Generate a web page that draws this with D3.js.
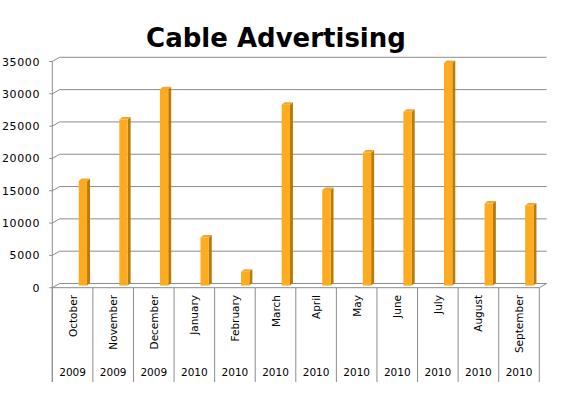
<!DOCTYPE html>
<html>
<head>
<meta charset="utf-8">
<script src="https://cdn.jsdelivr.net/npm/d3@7"></script>
<style>
  body { margin: 0; background: #fff; }
  svg { display: block; font-family: "DejaVu Sans", Verdana, sans-serif; }
</style>
</head>
<body>
<div id="chart"></div>
<script>
// values
const months = ["October", "November", "December", "January", "February", "March",
                "April", "May", "June", "July", "August", "September"];
const years = ["2009", "2009", "2009", "2010", "2010", "2010",
               "2010", "2010", "2010", "2010", "2010", "2010"];
const spend = [16200, 25700, 30400, 7450, 2150, 28000,
               14800, 20600, 26900, 34450, 12700, 12400];
const yTicks = [0, 5000, 10000, 15000, 20000, 25000, 30000, 35000];

const width = 564, height = 396;
const left = 52.3, right = 539.3;
const backTop = 57.3, backBottom = 283.5;
const depthX = 7.3, depthY = -4.2;   // front -> back wall shift

const svg = d3.select("#chart")
    .append("svg")
    .attr("width", width)
    .attr("height", height);

const x = d3.scaleBand()
    .domain(d3.range(months.length))
    .range([left, right]);

// y scale drawn on the back wall
const y = d3.scaleLinear()
    .domain([0, 35000])
    .range([backBottom, backTop]);

const gridColor = "#8c8c8c";

// back wall gridlines + side wall diagonals
const grid = svg.append("g");
yTicks.forEach(function (t) {
    grid.append("line")
        .attr("x1", left + depthX).attr("x2", right + depthX)
        .attr("y1", y(t)).attr("y2", y(t))
        .attr("stroke", gridColor);
    grid.append("line")
        .attr("x1", left).attr("x2", left + depthX)
        .attr("y1", y(t) - depthY).attr("y2", y(t))
        .attr("stroke", gridColor);
    grid.append("line")
        .attr("x1", left - 3).attr("x2", left)
        .attr("y1", y(t) - depthY).attr("y2", y(t) - depthY)
        .attr("stroke", gridColor);
    grid.append("text")
        .attr("x", 40)
        .attr("y", y(t) - depthY + 4)
        .attr("text-anchor", "end")
        .style("font-size", "11px")
        .style("letter-spacing", "0.6px")
        .attr("fill", "#000")
        .text(t);
});

// floor: front edge and right diagonal
grid.append("line")
    .attr("x1", left).attr("x2", right)
    .attr("y1", y(0) - depthY).attr("y2", y(0) - depthY)
    .attr("stroke", gridColor);
grid.append("line")
    .attr("x1", right).attr("x2", right + depthX)
    .attr("y1", y(0) - depthY).attr("y2", y(0))
    .attr("stroke", gridColor);
// y axis line
grid.append("line")
    .attr("x1", left).attr("x2", left)
    .attr("y1", y(35000) - depthY).attr("y2", 382)
    .attr("stroke", gridColor);

// bars, sitting half way into the depth
const barW = 8.3, barDx = 3, barDy = -2.5;
const midX = depthX / 2, midY = depthY / 2;
const bars = svg.append("g")
    .selectAll("g")
    .data(spend)
    .enter()
    .append("g");

function bx(d, i) { return x(i) + x.bandwidth() * 0.68 - midX + 2.5; }
function by(d) { return y(d) - midY; }
const base = y(0) - midY;

bars.append("path")   // side
    .attr("d", function (d, i) {
        const x0 = bx(d, i) + barW, t = by(d);
        return "M" + x0 + "," + base + "L" + x0 + "," + t +
            "L" + (x0 + barDx) + "," + (t + barDy) +
            "L" + (x0 + barDx) + "," + (base + barDy) + "Z";
    })
    .attr("fill", "#b97c0c");

bars.append("path")   // top
    .attr("d", function (d, i) {
        const x0 = bx(d, i), t = by(d);
        return "M" + x0 + "," + t + "L" + (x0 + barW) + "," + t +
            "L" + (x0 + barW + barDx) + "," + (t + barDy) +
            "L" + (x0 + barDx) + "," + (t + barDy) + "Z";
    })
    .attr("fill", "#f0a830");

bars.append("rect")   // front
    .attr("x", bx)
    .attr("y", by)
    .attr("width", barW)
    .attr("height", function (d) { return base - by(d); })
    .attr("fill", "#ffab20");

// category table under the floor
const table = svg.append("g");
d3.range(months.length + 1).forEach(function (i) {
    const xx = i < months.length ? x(i) : right;
    table.append("line")
        .attr("x1", xx).attr("x2", xx)
        .attr("y1", y(0) - depthY).attr("y2", 382)
        .attr("stroke", gridColor);
});

table.selectAll("text.month")
    .data(months)
    .enter()
    .append("text")
    .attr("class", "month")
    .attr("transform", function (d, i) {
        return "translate(" + (x(i) + x.bandwidth() / 2 + 4) + ",295) rotate(-90)";
    })
    .attr("text-anchor", "end")
    .style("font-size", "10.5px")
    .attr("fill", "#000")
    .text(function (d) { return d; });

table.selectAll("text.year")
    .data(years)
    .enter()
    .append("text")
    .attr("class", "year")
    .attr("x", function (d, i) { return x(i) + x.bandwidth() / 2; })
    .attr("y", 376)
    .attr("text-anchor", "middle")
    .style("font-size", "10.5px")
    .attr("fill", "#000")
    .text(function (d) { return d; });

svg.append("text")
    .attr("x", 276)
    .attr("y", 47)
    .attr("text-anchor", "middle")
    .style("font-size", "26px")
    .style("font-weight", "bold")
    .attr("fill", "#000")
    .text("Cable Advertising");
</script>
</body>
</html>
